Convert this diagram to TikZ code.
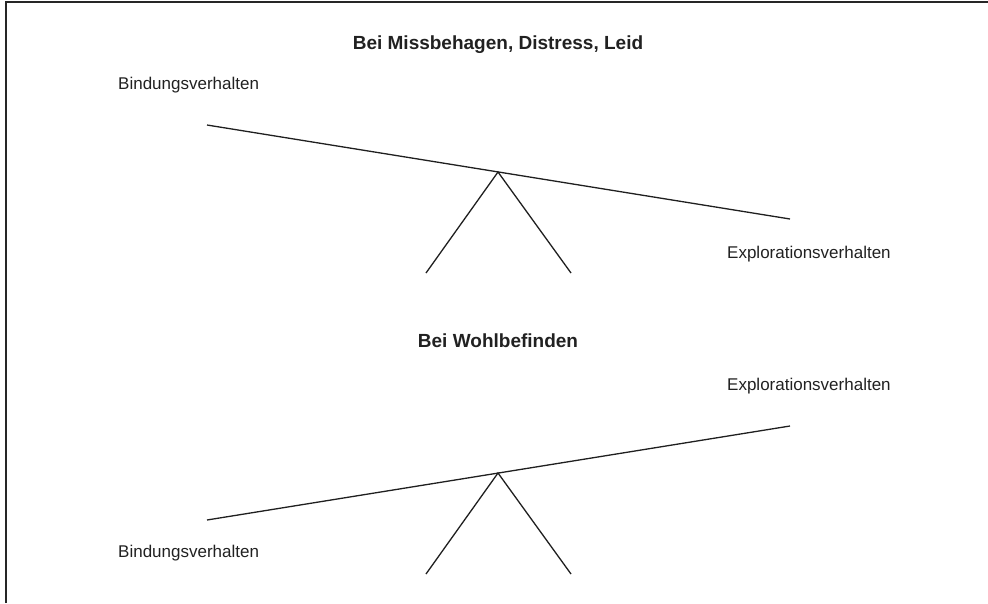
\documentclass[tikz,border=0pt]{standalone}
\usepackage{fontspec}
\setmainfont{Liberation Sans}
\begin{document}
\begin{tikzpicture}[x=1pt,y=-1pt,
  lbl/.style={inner sep=0pt,anchor=base west,text=black!87,font=\fontsize{17}{20}\selectfont},
  ttl/.style={inner sep=0pt,anchor=base,text=black!87,font=\bfseries\fontsize{19}{22}\selectfont},
  beam/.style={line width=1.3pt,draw=black!88},
  frame/.style={line width=1.6pt,draw=black!85}]
\useasboundingbox (0,0) rectangle (988,603);
% frame
\coordinate (fbl) at (6,603);
\coordinate (ftl) at (6,2);
\coordinate (ftr) at (988,2);
\draw[frame] (fbl) -- (ftl) -- (ftr);

% distress: attachment side down
\node[ttl] (t1) at (498,49) {Bei Missbehagen, Distress, Leid};
\node[lbl] (b1) at (118,89) {Bindungsverhalten};
\node[lbl] (e1) at (727,258) {Explorationsverhalten};
\coordinate (l1) at (207,125);
\coordinate (r1) at (790,219);
\coordinate (p1) at (498,172);
\coordinate (fa1) at (426,273);
\coordinate (fb1) at (571,273);
\draw[beam] (l1) -- (r1);
\draw[beam] (fa1) -- (p1) -- (fb1);

% well-being: exploration side up
\node[ttl] (t2) at (498,347) {Bei Wohlbefinden};
\node[lbl] (e2) at (727,390) {Explorationsverhalten};
\node[lbl] (b2) at (118,557) {Bindungsverhalten};
\coordinate (l2) at (207,520);
\coordinate (r2) at (790,426);
\coordinate (p2) at (498,473);
\coordinate (fa2) at (426,574);
\coordinate (fb2) at (571,574);
\draw[beam] (l2) -- (r2);
\draw[beam] (fa2) -- (p2) -- (fb2);
\end{tikzpicture}
\end{document}
